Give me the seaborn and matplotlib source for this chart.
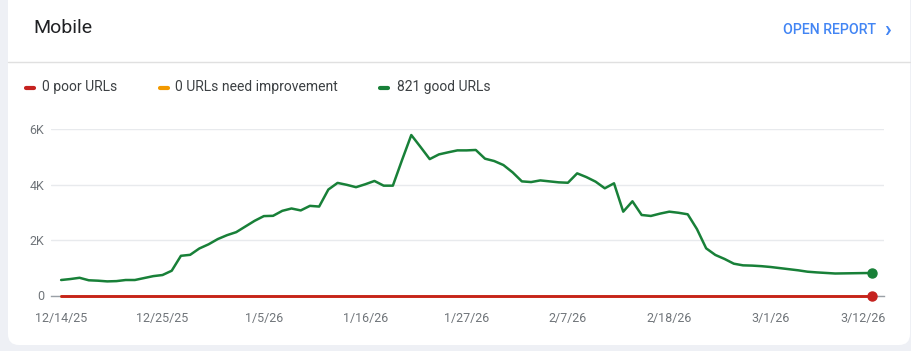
import matplotlib.pyplot as plt
import pandas as pd
import seaborn as sns
from matplotlib.patches import FancyBboxPatch
from matplotlib.transforms import ScaledTranslation

# Data
dates = pd.date_range('2025-12-14', '2026-03-12', freq='D')
good_urls = [560, 595, 640, 550, 535, 510, 520, 560, 560, 630,
             700, 740, 895, 1435, 1470, 1700, 1850, 2040, 2180, 2290,
             2495, 2700, 2870, 2880, 3060, 3145, 3075, 3240, 3215, 3830,
             4070, 4000, 3915, 4020, 4140, 3970, 3970, 4900, 5800, 5370,
             4930, 5100, 5175, 5245, 5245, 5260, 4945, 4860, 4715, 4450,
             4125, 4100, 4160, 4125, 4090, 4075, 4415, 4280, 4115, 3875,
             4055, 3030, 3405, 2910, 2875, 2960, 3030, 2990, 2935, 2400,
             1705, 1465, 1320, 1150, 1090, 1080, 1060, 1030, 990, 950,
             910, 860, 835, 815, 795, 800, 805, 810, 815]
poor_urls = [0] * len(dates)
improve_urls = [0] * len(dates)
tick_labels = ['12/14/25', '12/25/25', '1/5/26', '1/16/26', '1/27/26',
               '2/7/26', '2/18/26', '3/1/26', '3/12/26']
y_ticks = [0, 2000, 4000, 6000]
y_labels = ['0', '2K', '4K', '6K']
legend_labels = ['0 poor URLs', '0 URLs need improvement', '821 good URLs']

GREEN = '#188038'
RED = '#c5221f'
ORANGE = '#f29900'

df = pd.DataFrame({'date': dates, 'good': good_urls,
                   'poor': poor_urls, 'improve': improve_urls})

sns.set_theme(style='white')
plt.rcParams['font.family'] = ['Roboto', 'DejaVu Sans']

fig = plt.figure(figsize=(9.12, 3.51), dpi=100)
fig.patch.set_facecolor('#eef0f5')

# White card behind everything
card = FancyBboxPatch((8 / 912, 6 / 351), 902 / 912, 360 / 351,
                      boxstyle='round,pad=0,rounding_size=0.012',
                      transform=fig.transFigure, facecolor='white',
                      edgecolor='none', zorder=-10, mutation_aspect=912 / 351)
fig.patches.append(card)

# Header
fig.text(33 / 912, 1 - 28 / 351, 'Mobile', fontsize=14, color='#202124',
         va='center', ha='left')
fig.text(876 / 912, 1 - 30 / 351, 'OPEN REPORT', fontsize=10.2, color='#4285f4',
         va='center', ha='right', fontweight='medium')
fig.text(891 / 912, 1 - 30 / 351, '\u203A', fontsize=16, color='#4285f4',
         va='center', ha='right', fontweight='bold')
fig.add_artist(plt.Line2D([8 / 912, 910 / 912], [1 - 62 / 351, 1 - 62 / 351],
                          transform=fig.transFigure, color='#e0e0e0', lw=1))

# Legend
legend_items = [(26, 42, RED), (160, 175, ORANGE), (380, 397, GREEN)]
for (dash_x, text_x, color), label in zip(legend_items, legend_labels):
    fig.add_artist(plt.Line2D([dash_x / 912, (dash_x + 8) / 912],
                              [1 - 88 / 351, 1 - 88 / 351],
                              transform=fig.transFigure, color=color,
                              lw=3, solid_capstyle='round'))
    fig.text(text_x / 912, 1 - 87 / 351, label, fontsize=10, color='#3c4043',
             va='center', ha='left')

# Chart
ax = fig.add_axes([51 / 912, 1 - 295.5 / 351, 833 / 912, 166 / 351])
ax.set_facecolor('none')

sns.lineplot(data=df, x='date', y='good', color=GREEN, lw=1.8, ax=ax, zorder=3)
sns.lineplot(data=df, x='date', y='improve', color=ORANGE, lw=2, ax=ax, zorder=3)
sns.lineplot(data=df, x='date', y='poor', color=RED, lw=2, ax=ax, zorder=4)
for line in ax.lines:
    line.set_clip_on(False)
ax.plot(dates[-1], good_urls[-1], 'o', color=GREEN, ms=6.5, zorder=5, clip_on=False)
ax.plot(dates[-1], poor_urls[-1], 'o', color=RED, ms=6.5, zorder=5, clip_on=False)

ax.set_xlim(dates[0] - pd.Timedelta(days=1.1), dates[-1] + pd.Timedelta(days=1.3))
ax.set_ylim(0, 6000)

ax.set_yticks(y_ticks)
ax.set_yticklabels(y_labels)
ax.set_xticks(pd.to_datetime(tick_labels, format='%m/%d/%y'))
ax.set_xticklabels(tick_labels)
ax.tick_params(axis='both', length=0, labelsize=9, labelcolor='#70757a')
ax.tick_params(axis='x', pad=12)
ax.tick_params(axis='y', pad=5)
last = ax.get_xticklabels()[-1]
last.set_transform(last.get_transform() + ScaledTranslation(-9 / 100, 0, fig.dpi_scale_trans))

ax.grid(axis='y', color='#e8eaed', lw=1)
ax.grid(axis='x', visible=False)
for side in ['top', 'right', 'left']:
    ax.spines[side].set_visible(False)
ax.spines['bottom'].set_color('#9aa0a6')
ax.spines['bottom'].set_linewidth(1)
ax.set_xlabel('')
ax.set_ylabel('')

plt.savefig('out.png', dpi=100)
